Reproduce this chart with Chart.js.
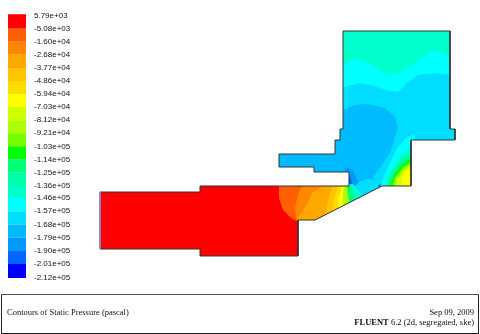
<!DOCTYPE html>
<html><head><meta charset="utf-8">
<style>
html,body{margin:0;padding:0;background:#fff;overflow:hidden}
#wrap{position:relative;width:480px;height:334px;filter:blur(0.35px)}
canvas{position:absolute;left:0;top:0}
#box{position:absolute;left:1px;top:294px;width:476px;height:38px;border:1px solid #222;border-top-color:#555;font:8.5px "Liberation Serif",serif;color:#111}
#box div{position:absolute;white-space:nowrap}
</style></head><body>
<div id="wrap"><canvas id="c" width="480" height="334"></canvas>
<div id="box">
<div style="left:5px;top:12px">Contours of Static Pressure (pascal)</div>
<div style="right:4px;top:12px">Sep 09, 2009</div>
<div style="right:4px;top:22px"><b>FLUENT</b> 6.2 (2d, segregated, ske)</div>
</div></div>
<script src="https://cdn.jsdelivr.net/npm/chart.js@4/dist/chart.umd.min.js"></script>
<script>
const tickLabels=["5.79e+03","-5.08e+03","-1.60e+04","-2.68e+04","-3.77e+04","-4.86e+04","-5.94e+04","-7.03e+04","-8.12e+04","-9.21e+04","-1.03e+05","-1.14e+05","-1.25e+05","-1.36e+05","-1.46e+05","-1.57e+05","-1.68e+05","-1.79e+05","-1.90e+05","-2.01e+05","-2.12e+05"];
const bandColors=["#ff0000","#ff5f00","#ff8800","#ffa800","#ffc400","#ffdc00","#ffff00","#d0ff00","#aaff00","#77ff00","#00ff00","#00ff77","#00ffaa","#00ffcc","#00ffff","#00ddff","#00bbff","#0099ff","#0066ff","#0000ff"];
const barX=[8,26];
const barEdges=[6955,-5080,-16000,-26800,-37700,-48600,-59400,-70300,-81200,-92100,-103000,-114000,-125000,-136000,-146000,-157000,-168000,-179000,-190000,-201000,-212600];

// geometry outline, plotted in the contour plot's coordinates
const ductOutline=[[100,192],[200,192],[200,186],[349,186],[349,172],[314,172],[314,167],[279,167],[279,154],[335,154],[335,140],[340,140],[340,129],[343,129],[343,31],[450,31],[450,129],[455,129],[455,140],[411,140],[411,186],[382,186],[315,220],[298,220],[298,256],[200,256],[200,249],[100,249],[100,192]];
const inletEdge=[[100,192],[100,249]];

// contour levels: [band index, boundary polygon]
const chamberBase=[[90,20],[470,20],[470,270],[90,270]];
const band15Top=[[330,88],[342,88],[358,83],[372,85],[385,90],[398,92],[407,83],[418,75],[435,73],[451,75],[470,76],[470,20],[330,20]];
const band14Top=[[330,65],[342,65],[355,59],[368,62],[382,72],[395,74],[408,68],[422,58],[432,51],[442,52],[451,57],[470,60],[470,20],[330,20]];
const band17Core=[[342,110],[355,105],[368,104],[385,108],[395,117],[398,128],[395,137],[390,153],[380,168],[373,177],[377,190],[345,192],[345,175],[270,175],[270,150],[330,125],[330,112]];
const band18Corner=[[349,168],[353,170],[356,178],[359,183],[354,188],[345,188],[345,168]];
const band16Tongue=[[353,188],[359,182],[368,179],[378,181],[382,186],[370,195],[356,196]];
const band19Spot=[[378,185.5],[381,183.5],[384,185],[382,187],[379,188]];
const band19Corner=[[349,176],[351,178],[352,185],[349,187]];
const fan15=[[415,134],[407,137],[397,148],[390,163],[384,176],[380,187],[415,190]];
const fan14=[[415,145],[404,152],[394,166],[387,178],[384,187],[415,190]];
const fan13=[[415,150],[401,158],[392,172],[386,187],[415,190]];
const fan12=[[415,154],[402,162],[393,173],[388,187],[415,190]];
const fan11=[[415,157],[402,165],[394,175],[390,187],[415,190]];
const fan10=[[415,159],[403,167],[395,177],[392,187],[415,190]];
const fan8=[[415,162],[403,170],[397,178],[395,187],[415,190]];
const fan7=[[415,165],[405,172],[402,178],[401,187],[415,190]];

const ductSide=[[300,262],[270,262],[270,186]];
const jet15=[[353,184],[360,192],[362,200]];
const jet13=[[350,184],[353,193],[356,202]];
const jet11=[[347,186],[348,195],[350,205]];
const jet8=[[344,186],[343,193],[343,199],[344,210]];
const jet7=[[342,186],[340,193],[338,200],[338,212]];
const jet6=[[338,186],[336,193],[333,203],[332,215]];
const jet5=[[333,186],[330,193],[328,200],[325,218]];
const jet4=[[323,186],[312,193],[308,203],[298,218],[299,225]];
const jet3=[[302,186],[298,195],[295,208],[297,225]];
const redCore=[[90,180],[279,180],[279,198],[283,210],[292,219],[300,222],[300,262],[90,262]];

const layers=[
 [15,chamberBase],[14,band15Top],[13,band14Top],[16,band17Core],[17,band18Corner],[15,band16Tongue],
 [18,band19Spot],[18,band19Corner],
 [14,fan15],[13,fan14],[12,fan13],[11,fan12],[10,fan11],[9,fan10],[7,fan8],[6,fan7],
 [13,jet15.concat(ductSide)],[11,jet13.concat(ductSide)],[8,jet11.concat(ductSide)],[6,jet8.concat(ductSide)],
 [5,jet7.concat(ductSide)],[4,jet6.concat(ductSide)],[3,jet5.concat(ductSide)],[2,jet4.concat(ductSide)],
 [1,jet3.concat(ductSide)],[0,redCore]
];
const pts=a=>a.map(p=>({x:p[0],y:p[1]}));
const poly=(a,color,extra)=>Object.assign({type:'scatter',showLine:true,data:pts(a),pointRadius:0,borderWidth:0,borderColor:color,backgroundColor:color,fill:'shape',tension:0,xAxisID:'x',yAxisID:'y'},extra||{});

const painted=layers.map(l=>poly(l[1],bandColors[l[0]]));
painted.push(poly(ductOutline,'#333333',{fill:false,borderWidth:1,isOutline:true}));
painted.push(poly(inletEdge,'#9a86d8',{fill:false,borderWidth:1}));
bandColors.forEach((col,i)=>{
 painted.push(poly([[barX[0],barEdges[i]],[barX[1],barEdges[i]],[barX[1],barEdges[i+1]],[barX[0],barEdges[i+1]]],col,{yAxisID:'yBar'}));
});
const n=painted.length;
painted.forEach((d,i)=>{d.order=n-i;});

const clipPlugin={id:'domainClip',
 beforeDatasetsDraw(chart){
  const {ctx,scales}=chart;ctx.save();ctx.beginPath();
  ductOutline.forEach((p,i)=>{const X=scales.x.getPixelForValue(p[0]),Y=scales.y.getPixelForValue(p[1]);i?ctx.lineTo(X,Y):ctx.moveTo(X,Y);});
  ctx.closePath();ctx.clip();
 },
 beforeDatasetDraw(chart,args){
  if(chart.data.datasets[args.index].isOutline)chart.ctx.restore();
 }
};

new Chart(document.getElementById('c'),{
 type:'scatter',
 data:{datasets:painted},
 plugins:[clipPlugin],
 options:{responsive:false,animation:false,devicePixelRatio:1,layout:{padding:0},
  plugins:{legend:{display:false},tooltip:{enabled:false}},
  scales:{
   x:{type:'linear',min:0,max:480,display:false},
   y:{type:'linear',min:0,max:334,reverse:true,display:false},
   yBar:{type:'linear',position:'left',min:-259203,max:18860,
    grid:{display:false},border:{display:false},
    afterBuildTicks(s){s.ticks=tickLabels.map(t=>({value:Number(t)}));},
    afterFit(s){s.width=0;s.paddingTop=0;s.paddingBottom=0;s.paddingLeft=0;s.paddingRight=0;},
    ticks:{mirror:true,padding:34,autoSkip:false,maxRotation:0,color:'#111',font:{family:'"Liberation Sans",sans-serif',size:8},
     callback(v){const i=tickLabels.findIndex(t=>Number(t)===v);return i<0?'':tickLabels[i];}}
   }
  }
 }
});
</script></body></html>
